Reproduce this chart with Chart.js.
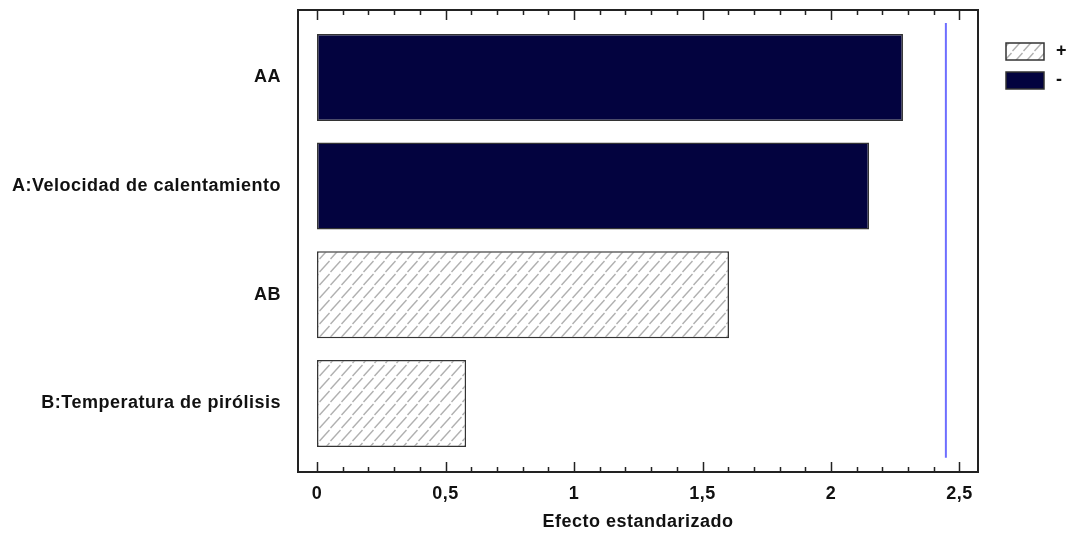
<!DOCTYPE html>
<html>
<head>
<meta charset="utf-8">
<script src="https://cdn.jsdelivr.net/npm/chart.js@4/dist/chart.umd.min.js"></script>
<style>
  html, body { margin: 0; padding: 0; background: #fff; }
  #wrap { width: 1068px; height: 533px; }
</style>
</head>
<body>
<div id="wrap"><canvas id="paretoChart"></canvas></div>
<script>
// Pareto de efectos estandarizados
const categories = ['AA', 'A:Velocidad de calentamiento', 'AB', 'B:Temperatura de pirólisis'];
const positiveEffects = [null, null, 1.603, 0.58];   // "+"
const negativeEffects = [2.28, 2.148, null, null];   // "-"
const criticalValue = 2.447;
const xTickValues = [0, 0.5, 1, 1.5, 2, 2.5];
const seriesLabels = ['+', '-'];

const fontFamily = '"Liberation Sans", Arial, sans-serif';

// trama rayada para la serie "+"
function makeHatch() {
  const c = document.createElement('canvas');
  c.width = 11; c.height = 13;
  const g = c.getContext('2d');
  g.fillStyle = '#fff';
  g.fillRect(0, 0, 11, 13);
  g.strokeStyle = '#b0b0b0';
  g.lineWidth = 1.4;
  g.beginPath();
  g.moveTo(0.5, 12);
  g.lineTo(10.5, 1);
  g.stroke();
  return g.createPattern(c, 'repeat');
}
const hatch = makeHatch();

function toPoints(values) {
  return values.map((v, i) => (v === null ? null : { x: v, y: i })).filter(p => p);
}

const framePlugin = {
  id: 'frame',
  beforeDraw(chart) {
    chart.ctx.letterSpacing = '0.5px';
  },
  afterDatasetsDraw(chart) {
    const { ctx, chartArea: a, scales } = chart;
    const x = scales.x, y = scales.y;
    ctx.save();
    // linea del valor critico
    const cx = x.getPixelForValue(criticalValue);
    ctx.strokeStyle = '#6e6eff';
    ctx.lineWidth = 2;
    ctx.beginPath();
    ctx.moveTo(cx, y.getPixelForValue(-0.5));
    ctx.lineTo(cx, y.getPixelForValue(3.5));
    ctx.stroke();
    // marco
    ctx.strokeStyle = '#222';
    ctx.lineWidth = 2;
    ctx.strokeRect(a.left, a.top, a.right - a.left, a.bottom - a.top);
    // marcas de escala arriba y abajo
    ctx.lineWidth = 1.5;
    for (let i = 0; i <= 25; i++) {
      const px = Math.round(x.getPixelForValue(i / 10)) + 0.5;
      const len = i % 5 === 0 ? 10 : 5;
      ctx.beginPath();
      ctx.moveTo(px, a.bottom);
      ctx.lineTo(px, a.bottom - len);
      ctx.moveTo(px, a.top);
      ctx.lineTo(px, a.top + len);
      ctx.stroke();
    }
    // leyenda
    const fills = [hatch, '#03033f'];
    ctx.font = 'bold 18px ' + fontFamily;
    ctx.textBaseline = 'middle';
    ctx.textAlign = 'left';
    seriesLabels.forEach((lab, i) => {
      const bx = a.right + 28, by = 43 + i * 29;
      ctx.fillStyle = fills[i];
      ctx.fillRect(bx, by, 38, 17);
      ctx.strokeStyle = '#333';
      ctx.lineWidth = 1.5;
      ctx.strokeRect(bx, by, 38, 17);
      ctx.fillStyle = '#111';
      ctx.fillText(lab, bx + 50, by + 8.5);
    });
    ctx.restore();
  }
};

const labelFont = { family: fontFamily, size: 18, weight: 'bold' };

new Chart(document.getElementById('paretoChart'), {
  type: 'bar',
  data: {
    datasets: [
      {
        label: seriesLabels[0],
        data: toPoints(positiveEffects),
        backgroundColor: hatch,
        borderColor: '#333',
        borderWidth: 1.5,
        borderSkipped: false
      },
      {
        label: seriesLabels[1],
        data: toPoints(negativeEffects),
        backgroundColor: '#03033f',
        borderColor: '#333',
        borderWidth: 1.5,
        borderSkipped: false
      }
    ]
  },
  options: {
    indexAxis: 'y',
    responsive: true,
    maintainAspectRatio: false,
    animation: false,
    grouped: false,
    barPercentage: 0.8,
    categoryPercentage: 1,
    layout: { padding: { top: 10, right: 90, left: 0, bottom: 0 } },
    plugins: { legend: { display: false }, tooltip: { enabled: false } },
    scales: {
      x: {
        type: 'linear',
        min: -0.074,
        max: 2.572,
        offset: false,
        grid: { display: false, drawTicks: false },
        border: { display: false },
        afterBuildTicks: s => { s.ticks = xTickValues.map(v => ({ value: v })); },
        afterFit: s => { s.height = 61; s.paddingLeft = 0; s.paddingRight = 0; },
        ticks: {
          padding: 11,
          color: '#111',
          font: labelFont,
          callback: v => String(v).replace('.', ',')
        },
        title: {
          display: true,
          text: 'Efecto estandarizado',
          color: '#111',
          font: labelFont,
          padding: { top: 0, bottom: 0 }
        }
      },
      y: {
        type: 'linear',
        reverse: true,
        offset: false,
        min: -0.62,
        max: 3.63,
        grid: { display: false, drawTicks: false },
        border: { display: false },
        afterBuildTicks: s => { s.ticks = categories.map((c, i) => ({ value: i })); },
        afterFit: s => { s.width = 298; s.paddingTop = 0; s.paddingBottom = 0; },
        ticks: {
          padding: 17,
          color: '#111',
          font: labelFont,
          callback: v => categories[v]
        }
      }
    }
  },
  plugins: [framePlugin]
});
</script>
</body>
</html>
